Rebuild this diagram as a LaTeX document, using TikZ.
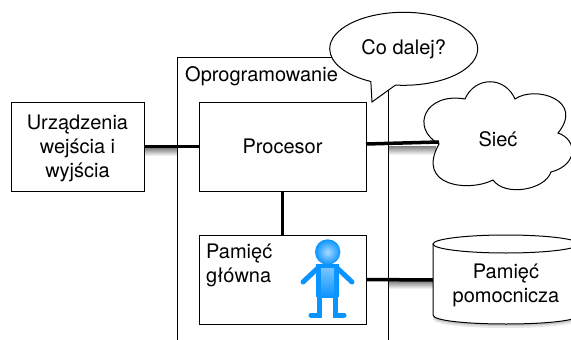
\documentclass[tikz,border=0pt]{standalone}
\usepackage{fontspec}
\setmainfont{TeX Gyre Heros}
\usetikzlibrary{shapes.callouts,shadows}
\definecolor{manblue}{HTML}{0A94FF}
\begin{document}
\begin{tikzpicture}[x=1pt,y=-1pt,node distance=133pt,font=\fontsize{20}{24}\selectfont]
\tikzstyle{box} = [rectangle, minimum width=167pt, minimum height=89pt, text centered, align=center, inner sep=0pt, draw=black, line width=1pt, fill=white]
\tikzstyle{plain} = [inner sep=0pt, align=left]
\tikzstyle{wire} = [line width=3.5pt, black]
\tikzstyle{wireshade} = [top color=black!50, bottom color=white, draw=none]
\tikzstyle{thin} = [line width=1pt, black]
\tikzstyle{limb} = [line width=5pt, manblue, line cap=round]
\useasboundingbox (0,0) rectangle (571,340);
% shadows under the wires
\shade[wireshade] (144,148) rectangle (177,156);
\shade[wireshade] (388,146) rectangle (436,155);
\shade[wireshade] (388,281) rectangle (433,289);
% software frame runs off the page
\draw[thin] (177,340) -- (177,57) -- (388,57) -- (388,340);
\node (Soft)[plain, anchor=west] at (185,76.5) {Oprogramowanie};
\node (Proc)[box] at (282.5,146.5) {Procesor};
\node (Mem)[box, below of=Proc] {};
\node (MemText)[plain, anchor=north west] at (206,244) {Pamięć\\główna};
\node (Dev)[box, left of=Proc, node distance=205pt, minimum width=133pt] {};
\node (DevText)[plain, align=center] at (77.5,148.5) {Urządzenia\\wejścia i\\wyjścia};
\coordinate (ProcOut) at (366,144);
\coordinate (NetIn) at (439,142);
\coordinate (DiskIn) at (433,280);
% cloud
\draw[thin, fill=white] (439,144) .. controls (410,128) and (425,92) .. (465,99)
  .. controls (475,76) and (505,76) .. (515,99)
  .. controls (535,85) and (585,100) .. (558,133)
  .. controls (578,140) and (578,165) .. (551,172)
  .. controls (545,190) and (505,197) .. (493,180)
  .. controls (470,192) and (415,187) .. (439,144) -- cycle;
\node (Net)[plain] at (498,139) {Sieć};
% disk
\draw[thin, fill=white, drop shadow={shadow xshift=0pt, shadow yshift=-2pt, opacity=.3}, drop shadow={shadow xshift=0pt, shadow yshift=-4pt, opacity=.2}] (433,244) -- (433,315) .. controls (433,327) and (579,327) .. (579,315) -- (579,244) -- cycle;
\draw[thin, fill=white] (506,244) ellipse (73 and 9);
\node (DiskText)[plain, align=center] at (506,285.5) {Pamięć\\pomocnicza};
% wires
\draw[wire] (Dev.east) -- (Proc.west);
\draw[wire] (ProcOut) -- (NetIn);
\draw[wire] (Proc.south) -- (Mem.north);
\draw[wire] (Mem.east) -- (DiskIn);
% bubble
\node (Ask)[ellipse callout, callout absolute pointer={(372,102)}, callout pointer arc=20, minimum width=148pt, minimum height=73pt, inner sep=0pt, draw=black, line width=1pt, fill=white] at (403.7,48.8) {Co dalej?};
% little man
\draw[limb] (319,267) -- (303,282);
\draw[limb] (336,267) -- (352,282);
\draw[limb] (319.5,296) -- (319.5,315) -- (311,315);
\draw[limb] (335.5,296) -- (335.5,315) -- (344,315);
\fill[manblue] (316,264) rectangle (339,297);
\shade[top color=manblue!55, bottom color=manblue] (321,268) rectangle (334,297);
\shade[inner color=manblue!35, outer color=manblue] (327.7,252) circle (12.7);
\end{tikzpicture}
\end{document}
